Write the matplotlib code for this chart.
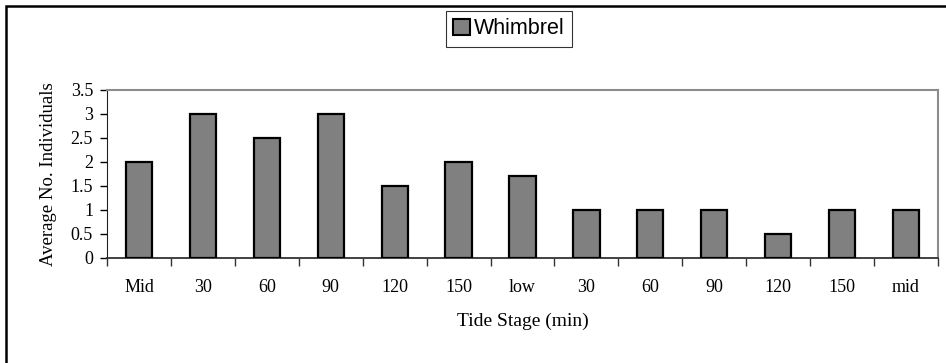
import numpy as np
import matplotlib.pyplot as plt
from matplotlib.patches import Rectangle

# Données
stages = ["Mid", "30", "60", "90", "120", "150", "low", "30", "60", "90", "120", "150", "mid"]
whimbrel = [2, 3, 2.5, 3, 1.5, 2, 1.7, 1, 1, 1, 0.5, 1, 1]
yticks = [0, 0.5, 1, 1.5, 2, 2.5, 3, 3.5]
ytick_labels = ["0", "0.5", "1", "1.5", "2", "2.5", "3", "3.5"]

W, H = 946, 363
fig = plt.figure(figsize=(W / 100, H / 100), dpi=100)

# cadre extérieur (déborde à droite et en bas)
fig.patches.append(Rectangle((6 / W, -0.05), 1.1, 1 - 6 / H + 0.05, transform=fig.transFigure,
                             fill=False, edgecolor="black", linewidth=1.8))

ax = fig.add_axes([107 / W, 1 - 258 / H, (938 - 107) / W, (258 - 90) / H])
x = np.arange(len(stages))
bars = ax.bar(x, whimbrel, width=0.41, color="#808080", edgecolor="black", linewidth=1.6,
              label="Whimbrel", zorder=3)

ax.set_xlim(-0.5, len(stages) - 0.5)
ax.set_ylim(0, 3.5)
ax.set_yticks(yticks)
ax.set_yticklabels(ytick_labels, family="Liberation Serif", fontsize=13)
ax.set_xticks(x)
ax.set_xticklabels(stages, family="Liberation Serif", fontsize=13)
ax.tick_params(axis="x", length=0, pad=15)
ax.set_xticks(np.arange(-0.5, len(stages)), minor=True)
ax.tick_params(axis="x", which="minor", length=6, direction="out", width=1, color="#333333")
ax.tick_params(axis="y", length=5, direction="out", width=1, pad=5)

for side in ["top", "right"]:
    ax.spines[side].set_color("#8c8c8c")
    ax.spines[side].set_linewidth(1.5)
ax.spines["left"].set_color("#222222")
ax.spines["bottom"].set_color("#333333")
ax.spines["bottom"].set_linewidth(1.3)

ax.set_ylabel("Average No. Individuals", family="Liberation Serif", fontsize=13.5, labelpad=10)
ax.set_xlabel("Tide Stage (min)", family="Liberation Serif", fontsize=14, labelpad=12)

leg = fig.legend(handles=[bars], labels=["Whimbrel"], loc="center", bbox_to_anchor=(509 / W, 1 - 29 / H),
                 prop={"family": "Liberation Sans", "size": 15.5}, fancybox=False, frameon=True,
                 handlelength=0.75, handleheight=0.75, handletextpad=0.2, borderpad=0.35, borderaxespad=0)
leg.get_frame().set_edgecolor("black")
leg.get_frame().set_linewidth(0.8)
for h in leg.legend_handles:
    h.set_linewidth(1.5)

fig.savefig("out.png", dpi=100)
